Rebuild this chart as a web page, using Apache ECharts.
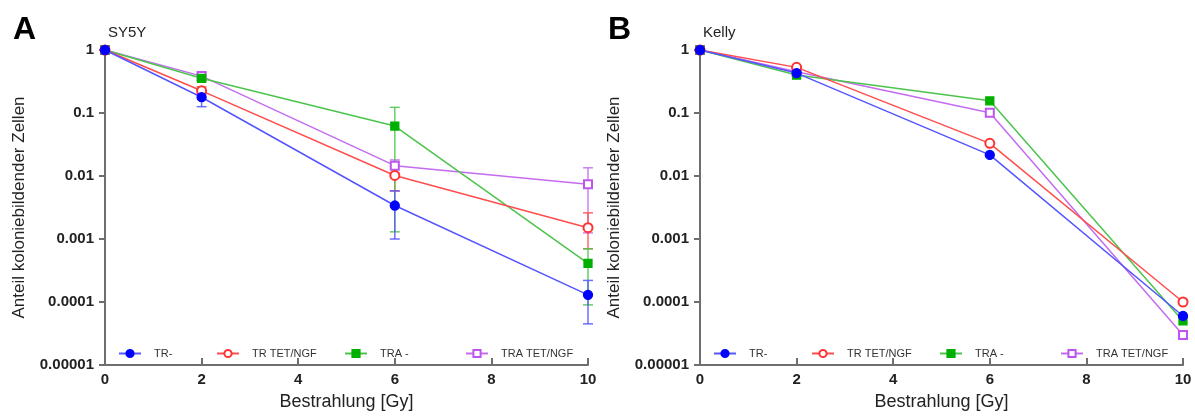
<!DOCTYPE html>
<html><head><meta charset="utf-8">
<script src="https://cdn.jsdelivr.net/npm/echarts@6/dist/echarts.min.js"></script>
<style>html,body{margin:0;padding:0;background:#fff}#c{width:1195px;height:416px}</style>
</head><body><div id="c"></div>
<script>
const doses = [0, 2, 6, 10];
const xTickLabels = ['0','2','4','6','8','10'];
const yTickLabels = ['1','0.1','0.01','0.001','0.0001','0.00001'];
const seriesNames = ['TR-', 'TR TET/NGF', 'TRA -', 'TRA TET/NGF'];
const panelTitles = ['SY5Y', 'Kelly'];
const panelLetters = ['A', 'B'];

// SY5Y
const sy_trMinus   = [1, 0.178, 0.0034, 0.00013];
const sy_trMinusLo = [null, 0.126, 0.001, 0.000045];
const sy_trMinusHi = [null, 0.23, 0.0058, 0.00022];
const sy_trTet     = [1, 0.225, 0.0102, 0.00151];
const sy_trTetLo   = [null, 0.2, 0.0058, 0.0007];
const sy_trTetHi   = [null, 0.26, 0.0146, 0.0026];
const sy_traMinus   = [1, 0.355, 0.062, 0.00041];
const sy_traMinusLo = [null, 0.32, 0.0013, 0.00009];
const sy_traMinusHi = [null, 0.39, 0.123, 0.0007];
const sy_traTet     = [1, 0.385, 0.0146, 0.0074];
const sy_traTetLo   = [null, 0.33, 0.011, 0.00125];
const sy_traTetHi   = [null, 0.44, 0.018, 0.0135];

// Kelly
const ke_trMinus  = [1, 0.43, 0.0216, 0.00006];
const ke_trTet    = [1, 0.53, 0.033, 0.0001];
const ke_traMinus = [1, 0.40, 0.156, 0.00005];
const ke_traTet   = [1, 0.45, 0.101, 0.00003];

const styles = [
  {symbol:'circle', line:'#5555ff', mark:'#0000ff'},
  {symbol:'emptyCircle', line:'#ff4d4d', mark:'#ff3333'},
  {symbol:'rect', line:'#4cc44c', mark:'#00b000'},
  {symbol:'emptyRect', line:'#c46cf0', mark:'#bf55ee'}
];

const panels = [
  {vals:[sy_trMinus, sy_trTet, sy_traMinus, sy_traTet],
   lo:[sy_trMinusLo, sy_trTetLo, sy_traMinusLo, sy_traTetLo],
   hi:[sy_trMinusHi, sy_trTetHi, sy_traMinusHi, sy_traTetHi]},
  {vals:[ke_trMinus, ke_trTet, ke_traMinus, ke_traTet], lo:null, hi:null}
];

const gridLefts = [105, 700];
const legendOffsets = [118, 216, 344, 465];
const fontFam = 'Liberation Sans, Arial, sans-serif';

const option = {
  animation:false,
  backgroundColor:'#fff',
  title:[], grid:[], xAxis:[], yAxis:[], legend:[], series:[]
};

panels.forEach((p, pi) => {
  const gl = gridLefts[pi];
  option.title.push({text:panelLetters[pi], left:gl-92, top:14, padding:0, textStyle:{fontSize:32, fontWeight:'bold', color:'#000', fontFamily:fontFam}});
  option.title.push({text:panelTitles[pi], left:gl+3, top:25, padding:0, textStyle:{fontSize:15, fontWeight:'normal', color:'#222', fontFamily:fontFam}});
  option.grid.push({left:gl, top:50, width:483, height:322, containLabel:false});
  option.xAxis.push({
    type:'value', gridIndex:pi, min:0, max:10, interval:2,
    axisLine:{show:true, lineStyle:{color:'#6e6e6e', width:2}},
    axisTick:{show:true, inside:true, length:7, lineStyle:{color:'#6e6e6e', width:2}},
    splitLine:{show:false},
    axisLabel:{fontSize:15, fontWeight:'bold', color:'#222', margin:7, fontFamily:fontFam,
      formatter:v => xTickLabels[Math.round(v/2)]},
    name:'Bestrahlung [Gy]', nameLocation:'middle', nameGap:28,
    nameTextStyle:{fontSize:18, color:'#222', fontFamily:fontFam}
  });
  option.yAxis.push({
    type:'log', logBase:10, gridIndex:pi, min:0.00001, max:1,
    axisLine:{show:true, lineStyle:{color:'#6e6e6e', width:2}},
    axisTick:{show:true, length:6, lineStyle:{color:'#6e6e6e', width:2}},
    splitLine:{show:false}, minorTick:{show:false},
    axisLabel:{fontSize:15, fontWeight:'bold', color:'#222', margin:11, fontFamily:fontFam,
      formatter:v => yTickLabels[Math.round(-Math.log10(v))]},
    name:'Anteil koloniebildender Zellen', nameLocation:'middle', nameGap:77, nameRotate:90,
    nameTextStyle:{fontSize:17, color:'#222', fontFamily:fontFam}
  });
  seriesNames.forEach((nm, si) => {
    option.legend.push({
      data:[nm], left:gl - 105 + legendOffsets[si], top:348, itemWidth:22, itemHeight:9, padding:0,
      textStyle:{fontSize:11, color:'#333', fontFamily:fontFam, padding:[0,0,0,8]}, itemGap:0, selectedMode:false
    });
  });
  if (p.lo) {
    [3,1,2,0].forEach(si => {
      const data = [];
      doses.forEach((d, k) => { if (p.lo[si][k] != null) data.push([d, p.lo[si][k], p.hi[si][k]]); });
      option.series.push({
        type:'custom', xAxisIndex:pi, yAxisIndex:pi, z:2, silent:true,
        data:data,
        encode:{x:0, y:[1,2]},
        renderItem:(params, api) => {
          const x = api.value(0);
          const a = api.coord([x, api.value(1)]);
          const b = api.coord([x, api.value(2)]);
          const hw = 5;
          const st = {stroke:styles[si].line, lineWidth:1.5, opacity:0.85};
          return {type:'group', children:[
            {type:'line', shape:{x1:a[0], y1:a[1], x2:b[0], y2:b[1]}, style:st},
            {type:'line', shape:{x1:a[0]-hw, y1:a[1], x2:a[0]+hw, y2:a[1]}, style:st},
            {type:'line', shape:{x1:b[0]-hw, y1:b[1], x2:b[0]+hw, y2:b[1]}, style:st}
          ]};
        }
      });
    });
  }
  [3,2,1,0].forEach(si => {
    option.series.push({
      type:'line', name:seriesNames[si], xAxisIndex:pi, yAxisIndex:pi, z:3+(3-si),
      data:doses.map((d,k)=>[d, p.vals[si][k]]),
      symbol:styles[si].symbol, symbolSize:si>=2 ? 8 : 9,
      lineStyle:{color:styles[si].line, width:1.5},
      itemStyle:{color:styles[si].mark, borderColor:styles[si].mark, borderWidth:1.3},
      showSymbol:true
    });
  });
});

const chart = echarts.init(document.getElementById('c'), null, {renderer:'canvas'});
chart.setOption(option);
</script>
</body></html>
